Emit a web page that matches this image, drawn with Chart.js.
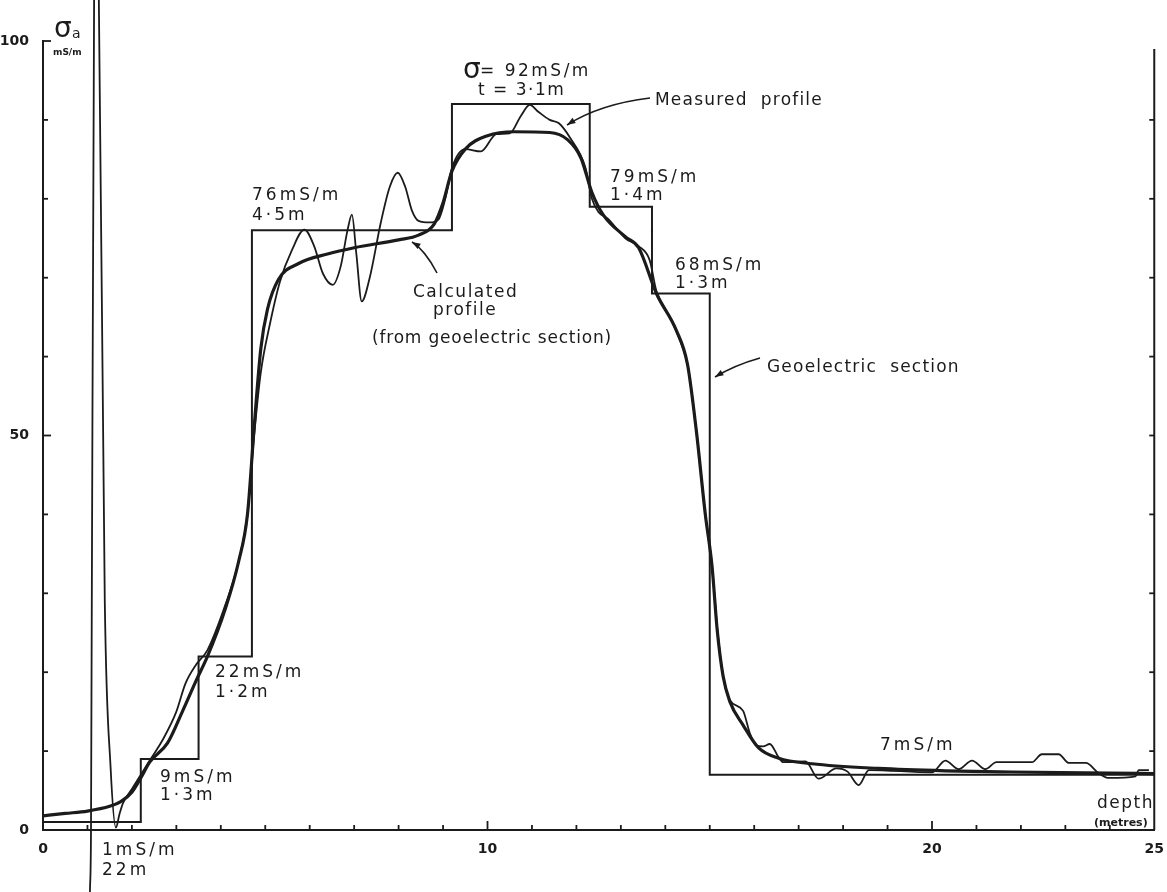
<!DOCTYPE html>
<html lang="en">
<head>
<meta charset="UTF-8">
<title>Apparent conductivity profile</title>
<script src="https://cdn.jsdelivr.net/npm/chart.js"></script>
<style>
  body { margin: 0; background: #fff; }
  .chart-box { width: 1167px; height: 892px; position: relative; }
</style>
</head>
<body>
<div class="chart-box"><canvas id="sigmaChart"></canvas></div>
<script>
// geoelectric section: depth of each layer top (m) and its conductivity (mS/m)
const layerTops  = [0, 2.2, 3.5, 4.7, 9.2, 12.3, 13.7, 15.0, 25];
const layerSigma = [1, 9, 22, 76, 92, 79, 68, 7, 7];

// calculated profile (from geoelectric section)
const calcDepth = [0, 0.5, 1.0, 1.5, 1.75, 2.0, 2.2, 2.4, 2.8, 3.15, 3.45, 3.7, 4.1, 4.4, 4.6, 4.75, 4.9, 5.05, 5.3, 5.75,
  6.4, 7.0, 8.0, 8.45, 8.8, 9.0, 9.2, 9.5, 10.0, 10.6, 11.4, 11.8, 12.1, 12.35, 12.6, 13.1, 13.4, 13.8, 14.25, 14.5,
  14.7, 14.9, 15.05, 15.17, 15.3, 15.45, 15.75, 16.1, 16.55, 17.3, 18.8, 20.3, 21.8, 24.0, 25.0];
const calcSigma = [1.8, 2.1, 2.4, 3.0, 3.6, 4.8, 6.6, 8.6, 11.0, 15.2, 19.0, 22.0, 28.0, 34.0, 40.0, 51.0, 61.0, 66.0, 69.8, 71.8,
  73.0, 73.8, 74.8, 75.4, 76.8, 79.5, 83.5, 86.3, 88.0, 88.5, 88.4, 87.5, 85.2, 80.8, 78.0, 75.2, 73.8, 68.0, 63.3, 59.0,
  50.5, 40.0, 33.5, 25.2, 19.5, 16.3, 13.3, 10.4, 9.1, 8.4, 7.8, 7.5, 7.35, 7.2, 7.15];

// measured profile
const measDepth = [1.055, 1.08, 1.15, 1.2, 1.255, 1.39, 1.52, 1.64, 1.72, 1.8, 2.0, 2.2, 2.4, 2.7, 3.0, 3.2, 3.45, 3.7, 4.1, 4.4,
  4.6, 4.75, 4.9, 5.1, 5.33, 5.6, 5.88, 6.1, 6.3, 6.52, 6.7, 6.85, 6.95, 7.05, 7.17, 7.35, 7.6, 7.8, 7.98, 8.15,
  8.3, 8.45, 8.7, 8.9, 9.05, 9.2, 9.5, 9.85, 10.2, 10.5, 10.75, 10.95, 11.15, 11.4, 11.6, 11.85, 12.2, 12.35, 12.5, 12.7,
  13.1, 13.4, 13.65, 13.8, 14.1, 14.3, 14.5, 14.7, 14.9, 15.05, 15.17, 15.3, 15.45, 15.75, 15.9, 16.05, 16.2, 16.35, 16.55, 16.65,
  17.15, 17.45, 17.85, 18.1, 18.35, 18.58, 20.0, 20.3, 20.6, 20.9, 21.2, 21.45, 22.25, 22.47, 22.85, 23.08, 23.46, 23.75, 23.98, 24.58,
  24.65, 24.88];
const measSigma = [-8, 0, 106, 112, 106, 29, 8, 0.3, 2.0, 3.4, 5.2, 7.0, 8.8, 11.5, 15.0, 18.5, 21.0, 22.8, 28.5, 34,
  40, 50, 58, 64, 69.5, 73.5, 76.1, 74, 70.5, 69.1, 71.5, 76, 78, 73, 67, 70, 77, 81.5, 83.3, 81.5,
  78.5, 77.2, 77.0, 77.4, 80, 83.9, 86.3, 86.0, 88.2, 88.3, 90.5, 91.9, 91.0, 90.0, 89.6, 87.8, 84.0, 80.0, 78.3, 77.5,
  75.0, 74.0, 72.2, 68.3, 65.0, 62.5, 59.0, 50.5, 40.0, 33.5, 25.5, 19.5, 16.5, 15.1, 12.3, 10.7, 10.6, 10.9, 9.2, 8.6,
  8.7, 6.5, 7.8, 7.4, 5.7, 7.6, 7.3, 8.8, 7.7, 8.8, 7.7, 8.6, 8.6, 9.6, 9.6, 8.5, 8.5, 7.2, 6.6, 6.8,
  7.6, 7.6];

const xTickLabels = [0, 10, 20, 25];
const yTickLabels = [0, 50, 100];

const ink = '#1b1b1b';
const toPoints = (xs, ys) => xs.map((x, i) => ({ x: x, y: ys[i] }));

// text labels drawn on top: [text, x, y (baseline), size, letter spacing]
const notes = [
  ['= 92mS/m', 480, 76, 17, 2.5],
  ['t = 3·1m', 478, 95, 17, 1.5],
  ['Measured  profile', 655, 105, 17, 1.2],
  ['76mS/m', 252, 200, 17, 3],
  ['4·5m', 252, 220, 17, 3],
  ['Calculated', 413, 297, 17, 1.5],
  ['profile', 433, 315, 17, 1.5],
  ['(from geoelectric section)', 372, 343, 17, 0.8],
  ['79mS/m', 610, 182, 17, 3],
  ['1·4m', 610, 200, 17, 3],
  ['68mS/m', 675, 270, 17, 3],
  ['1·3m', 675, 288, 17, 3],
  ['Geoelectric  section', 767, 372, 17, 1.2],
  ['22mS/m', 215, 677, 17, 3],
  ['1·2m', 215, 697, 17, 3],
  ['9mS/m', 160, 782, 17, 3],
  ['1·3m', 160, 800, 17, 3],
  ['1mS/m', 102, 855, 17, 3],
  ['22m', 102, 875, 17, 3],
  ['7mS/m', 880, 750, 17, 3],
  ['depth', 1097, 808, 17, 1.5]
];

// arrows: start, control, tip
const arrows = [
  [650, 98, 600, 104, 567, 125],
  [437, 273, 425, 250, 412, 242],
  [760, 358, 735, 365, 715, 377]
];

function drawArrow(ctx, a) {
  ctx.beginPath();
  ctx.moveTo(a[0], a[1]);
  ctx.quadraticCurveTo(a[2], a[3], a[4], a[5]);
  ctx.stroke();
  const ang = Math.atan2(a[5] - a[3], a[4] - a[2]);
  ctx.beginPath();
  ctx.moveTo(a[4], a[5]);
  ctx.lineTo(a[4] - 9 * Math.cos(ang - 0.35), a[5] - 9 * Math.sin(ang - 0.35));
  ctx.lineTo(a[4] - 9 * Math.cos(ang + 0.35), a[5] - 9 * Math.sin(ang + 0.35));
  ctx.closePath();
  ctx.fill();
}

const extrasPlugin = {
  id: 'extras',
  afterDraw(chart) {
    const ctx = chart.ctx;
    const xs = chart.scales.x, ys = chart.scales.y;
    const area = chart.chartArea;
    ctx.save();
    ctx.strokeStyle = ink;
    ctx.fillStyle = ink;

    // right frame line
    ctx.lineWidth = 2;
    ctx.beginPath();
    ctx.moveTo(area.right, ys.getPixelForValue(99));
    ctx.lineTo(area.right, area.bottom);
    ctx.stroke();

    // inward ticks
    ctx.lineWidth = 1.8;
    for (let d = 1; d < 25; d++) {
      const px = xs.getPixelForValue(d);
      const len = d % 10 === 0 ? 9 : 5;
      ctx.beginPath();
      ctx.moveTo(px, area.bottom);
      ctx.lineTo(px, area.bottom - len);
      ctx.stroke();
    }
    for (let v = 10; v <= 100; v += 10) {
      const py = ys.getPixelForValue(v);
      const len = v % 50 === 0 ? 8 : 5;
      ctx.beginPath();
      ctx.moveTo(area.left, py);
      ctx.lineTo(area.left + len, py);
      ctx.stroke();
      if (v < 100) {
        ctx.beginPath();
        ctx.moveTo(area.right, py);
        ctx.lineTo(area.right - 5, py);
        ctx.stroke();
      }
    }

    // axis title sigma_a
    ctx.textBaseline = 'alphabetic';
    ctx.font = '28px "DejaVu Sans"';
    ctx.fillText('σ', 54, 37);
    ctx.font = '14px "DejaVu Sans"';
    ctx.fillText('a', 72, 38);
    ctx.font = 'bold 9px "DejaVu Sans"';
    ctx.fillText('mS/m', 53, 55);

    ctx.font = '28px "DejaVu Sans"';
    ctx.fillText('σ', 463, 78);

    notes.forEach(n => {
      ctx.font = n[3] + 'px "DejaVu Sans"';
      ctx.letterSpacing = n[4] + 'px';
      ctx.fillText(n[0], n[1], n[2]);
    });
    ctx.letterSpacing = '0px';
    ctx.font = 'bold 11px "DejaVu Sans"';
    ctx.fillText('(metres)', 1094, 826);

    ctx.lineWidth = 1.6;
    arrows.forEach(a => drawArrow(ctx, a));
    ctx.restore();
  }
};

const ctx = document.getElementById('sigmaChart').getContext('2d');
new Chart(ctx, {
  type: 'line',
  data: {
    datasets: [
      {
        label: 'Geoelectric section',
        data: toPoints(layerTops, layerSigma),
        stepped: true,
        borderColor: ink,
        borderWidth: 2,
        pointRadius: 0
      },
      {
        label: 'Calculated profile',
        data: toPoints(calcDepth, calcSigma),
        cubicInterpolationMode: 'monotone',
        borderColor: ink,
        borderWidth: 3.2,
        pointRadius: 0
      },
      {
        label: 'Measured profile',
        data: toPoints(measDepth, measSigma),
        cubicInterpolationMode: 'monotone',
        borderColor: ink,
        borderWidth: 1.8,
        pointRadius: 0,
        clip: false
      }
    ]
  },
  options: {
    responsive: true,
    maintainAspectRatio: false,
    animation: false,
    layout: { padding: { top: 41, right: 10, left: 0, bottom: 0 } },
    plugins: { legend: { display: false }, tooltip: { enabled: false } },
    scales: {
      x: {
        type: 'linear',
        min: 0,
        max: 25,
        grid: { display: false },
        border: { color: ink, width: 2 },
        afterFit: s => { s.height = 62; },
        ticks: {
          stepSize: 1,
          autoSkip: false,
          maxRotation: 0,
          padding: 3,
          color: ink,
          font: { family: 'DejaVu Sans', size: 14, weight: 'bold' },
          callback: v => xTickLabels.includes(v) ? String(v) : ''
        }
      },
      y: {
        min: 0,
        max: 100,
        grid: { display: false },
        border: { color: ink, width: 2 },
        afterFit: s => { s.width = 43; },
        ticks: {
          stepSize: 10,
          autoSkip: false,
          padding: 6,
          color: ink,
          font: { family: 'DejaVu Sans', size: 14, weight: 'bold' },
          callback: v => yTickLabels.includes(v) ? String(v) : ''
        }
      }
    }
  },
  plugins: [extrasPlugin]
});
</script>
</body>
</html>
